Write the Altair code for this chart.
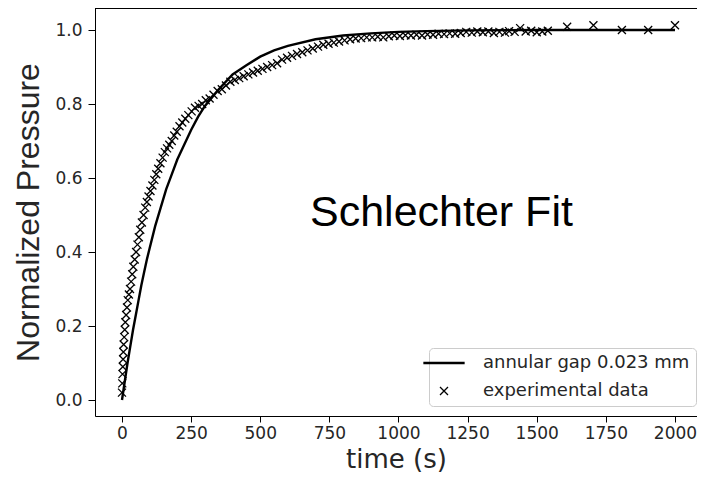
import altair as alt
import pandas as pd

# ---- data ----
fit_t = [0, 10, 20, 30, 40, 50, 60, 70, 80, 90, 100, 120, 140, 160, 180, 200, 225, 250,
         275, 300, 350, 400, 450, 500, 550, 600, 700, 800, 900, 1000, 1100, 1250, 1500,
         1750, 2000]
fit_v = [0.0, 0.05, 0.10, 0.145, 0.19, 0.23, 0.27, 0.31, 0.345, 0.38, 0.41, 0.47, 0.52,
         0.57, 0.61, 0.65, 0.69, 0.73, 0.765, 0.795, 0.84, 0.88, 0.905, 0.928, 0.945,
         0.957, 0.975, 0.985, 0.991, 0.995, 0.997, 0.999, 1.0, 1.0, 1.0]

exp_t = [0, 1, 2, 3, 4, 5, 6, 8, 10, 12, 15, 18, 21, 25, 29, 33, 37, 41, 46, 51, 56, 61,
         66, 72, 78, 84, 90, 96, 103, 110, 117, 124, 131, 139, 147, 155, 163, 171, 180,
         189, 198, 208, 218, 229, 240, 252, 264, 277, 290, 303, 317, 331, 346, 361, 376,
         392, 408, 424, 440, 457, 474, 491, 508, 525, 543, 561, 579, 597, 615, 633, 652,
         671, 690, 709, 728, 747, 766, 785, 805, 825, 845, 865, 885, 905, 925, 945, 965,
         985, 1005, 1025, 1045, 1065, 1085, 1105, 1125, 1145, 1165, 1185, 1205, 1225,
         1245, 1265, 1285, 1305, 1325, 1345, 1365, 1385, 1400, 1420, 1440, 1460, 1480,
         1500, 1520, 1540, 1610, 1705, 1808, 1903, 2000]
exp_v = [0.02, 0.045, 0.07, 0.09, 0.11, 0.13, 0.15, 0.17, 0.19, 0.21, 0.23, 0.25, 0.27,
         0.285, 0.30, 0.32, 0.34, 0.36, 0.38, 0.40, 0.42, 0.44, 0.46, 0.48, 0.50, 0.52,
         0.535, 0.55, 0.565, 0.58, 0.595, 0.61, 0.625, 0.64, 0.655, 0.67, 0.68, 0.69,
         0.70, 0.715, 0.725, 0.74, 0.75, 0.76, 0.77, 0.78, 0.79, 0.795, 0.80, 0.81, 0.815,
         0.825, 0.835, 0.84, 0.85, 0.86, 0.865, 0.87, 0.875, 0.88, 0.885, 0.89, 0.895,
         0.90, 0.905, 0.91, 0.92, 0.925, 0.93, 0.935, 0.94, 0.945, 0.95, 0.955, 0.96,
         0.963, 0.966, 0.969, 0.972, 0.975, 0.977, 0.978, 0.98, 0.98, 0.982, 0.98, 0.983,
         0.985, 0.984, 0.986, 0.985, 0.987, 0.985, 0.988, 0.987, 0.99, 0.989, 0.991,
         0.99, 0.992, 0.995, 0.993, 0.996, 0.994, 0.996, 0.992, 0.995, 0.993, 0.997,
         0.995, 1.005, 0.996, 0.998, 0.994, 0.996, 0.998, 1.009, 1.013, 1.0, 1.0, 1.013]

x_ticks = [0, 250, 500, 750, 1000, 1250, 1500, 1750, 2000]
y_ticks = [0.0, 0.2, 0.4, 0.6, 0.8, 1.0]

FIT_LABEL = "annular gap 0.023 mm"
DATA_LABEL = "experimental data"
ANNOT = "Schlechter Fit"
annot_t = [680]
annot_v = [0.505]

fit_df = pd.DataFrame({"t": fit_t, "v": fit_v})
exp_df = pd.DataFrame({"t": exp_t, "v": exp_v, "series": [DATA_LABEL] * len(exp_t)})
ann_df = pd.DataFrame({"t": annot_t, "v": annot_v, "label": [ANNOT]})

W, H = 602, 408
TICK_FONT = "DejaVu Sans"
TXT = "#262626"
xscale = alt.Scale(domain=[-97.6, 2079.6], nice=False, zero=False)
yscale = alt.Scale(domain=[-0.0432, 1.0595], nice=False, zero=False)

x_axis = alt.Axis(values=x_ticks, format="d", title="time (s)", grid=False, tickSize=6,
                  labelFont=TICK_FONT, labelFontSize=17, labelColor=TXT,
                  titleFont="DejaVu Sans", titleFontSize=26, titleFontWeight="normal",
                  titleColor=TXT, titlePadding=5, domainColor="black",
                  tickColor="black", labelPadding=3, labelFlush=False)
y_axis = alt.Axis(values=y_ticks, format=".1f", title="Normalized Pressure", grid=False,
                  tickSize=7, labelFont=TICK_FONT, labelFontSize=17,
                  labelColor=TXT, titleFont="Liberation Sans", titleFontSize=32,
                  titleFontWeight="normal", titleColor=TXT, titlePadding=9,
                  domainColor="black", tickColor="black", labelPadding=6)

X_PATH = "M-1,-1L1,1M-1,1L1,-1"
LINE_PATH = "M-5,-0.15L5,-0.15L5,0.15L-5,0.15Z"

line = alt.Chart(fit_df).mark_line(color="black", strokeWidth=2.4).encode(
    x=alt.X("t:Q", scale=xscale, axis=x_axis),
    y=alt.Y("v:Q", scale=yscale, axis=y_axis),
)

points = alt.Chart(exp_df).mark_point(
    filled=False, color="black", opacity=1, size=64, strokeWidth=1.3
).encode(
    x=alt.X("t:Q", scale=xscale),
    y=alt.Y("v:Q", scale=yscale),
    shape=alt.Shape(
        "series:N",
        scale=alt.Scale(domain=[FIT_LABEL, DATA_LABEL], range=[LINE_PATH, X_PATH]),
        legend=alt.Legend(
            orient="none", legendX=334, legendY=340, title=None,
            labelFont=TICK_FONT, labelFontSize=18, labelColor=TXT, labelLimit=400,
            symbolSize=64, symbolStrokeWidth=1.3, symbolStrokeColor="black",
            symbolOpacity=1, labelOffset=30, rowPadding=10, padding=6,
            strokeColor="#cccccc", fillColor="white", cornerRadius=4,
        ),
    ),
)

text = alt.Chart(ann_df).mark_text(
    font="Liberation Sans", fontSize=43, align="left", baseline="middle", color="black"
).encode(
    x=alt.X("t:Q", scale=xscale),
    y=alt.Y("v:Q", scale=yscale),
    text="label:N",
)

top_spine = alt.Chart(fit_df).mark_rule(color="black", strokeWidth=1).encode(
    x=alt.value(0), x2=alt.value(W), y=alt.value(0)
)

chart = alt.layer(points, line, text, top_spine).properties(
    width=W, height=H,
    autosize=alt.AutoSizeParams(type="none"),
    padding={"left": 87, "top": 0, "right": 0, "bottom": 62},
).configure_view(stroke=None).configure(background="white")

chart.save("out.html", embed_options={"renderer": "svg", "actions": False})
